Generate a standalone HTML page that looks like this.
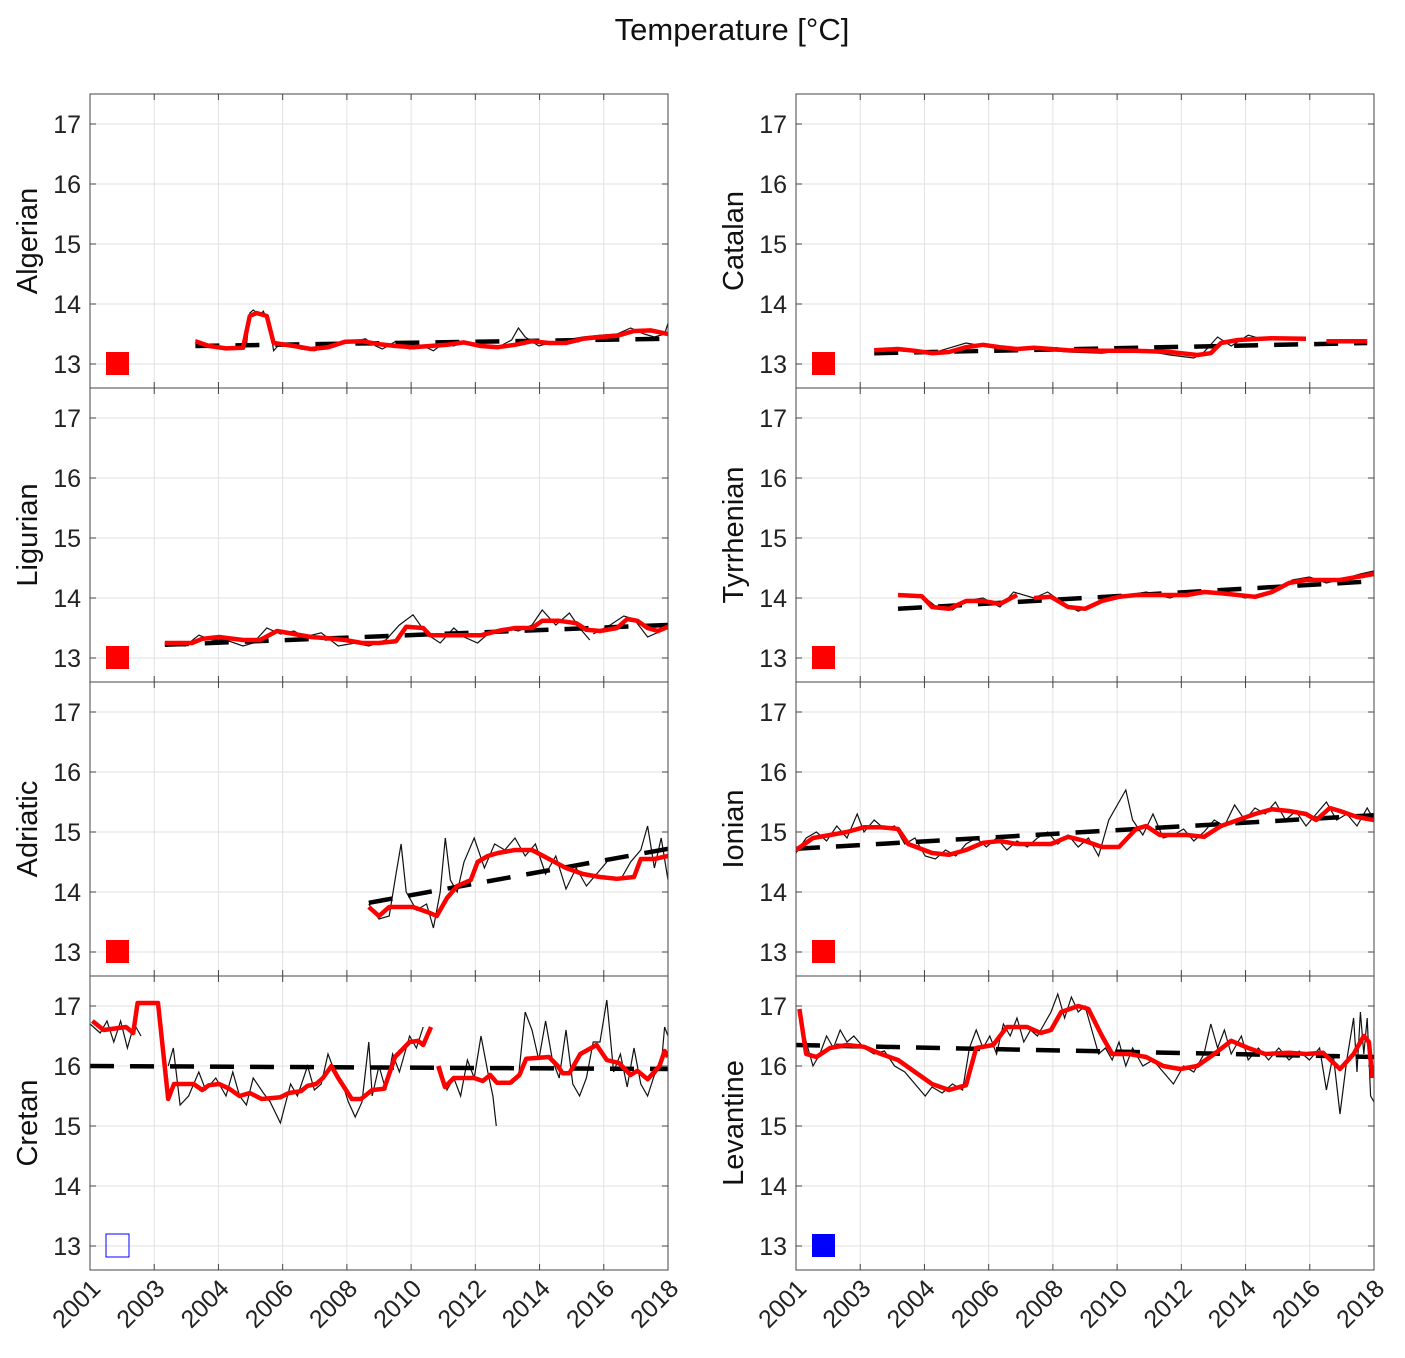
<!DOCTYPE html>
<html><head><meta charset="utf-8"><style>
html,body{margin:0;padding:0;background:#fff;}
svg{display:block;font-family:"Liberation Sans",Arial,sans-serif;}
</style></head><body>
<svg id="chart" width="1405" height="1358" viewBox="0 0 1405 1358" xmlns="http://www.w3.org/2000/svg">
<text x="732" y="40" text-anchor="middle" font-size="31" fill="#111">Temperature [°C]</text>
</svg>
<script>
const regions = ["Algerian","Catalan","Ligurian","Tyrrhenian","Adriatic","Ionian","Cretan","Levantine"];
const yTicks = [13,14,15,16,17];
const xTickLabels = ["2001","2003","2004","2006","2008","2010","2012","2014","2016","2018"];
const markerStyle = ["red","red","red","red","red","red","blueOpen","blue"];
const trends = [
 [2004.1,13.3,2018,13.42],[2003.3,13.18,2017.8,13.35],
 [2003.2,13.22,2018,13.55],[2004,13.82,2018,14.28],
 [2009.2,13.82,2018,14.72],[2001,14.72,2018,15.28],
 [2001,16.0,2018,15.95],[2001,16.35,2018,16.15]];
const red0=[[2004.1,13.38],[2004.5,13.3],[2005,13.26],[2005.5,13.27],[2005.7,13.8],[2005.9,13.85],[2006.2,13.8],[2006.4,13.35],[2007,13.3],[2007.5,13.25],[2008,13.28],[2008.5,13.37],[2009,13.38],[2009.5,13.33],[2010,13.3],[2010.5,13.28],[2011,13.3],[2011.5,13.32],[2012,13.36],[2012.5,13.3],[2013,13.28],[2013.5,13.32],[2014,13.38],[2014.5,13.35],[2015,13.35],[2015.5,13.42],[2016,13.45],[2016.5,13.47],[2017,13.55],[2017.5,13.56],[2018,13.5]];
const red1=[[2003.3,13.23],[2004,13.25],[2004.5,13.22],[2005,13.18],[2005.5,13.2],[2006,13.28],[2006.5,13.32],[2007,13.28],[2007.5,13.25],[2008,13.27],[2008.5,13.25],[2009,13.23],[2010,13.22],[2011,13.22],[2012,13.2],[2012.8,13.15],[2013.2,13.18],[2013.5,13.35],[2014,13.4],[2015,13.43],[2016,13.42],[2016.3,null],[2016.6,13.38],[2017.8,13.38]];
const red2=[[2003.2,13.25],[2004,13.25],[2004.3,13.32],[2004.8,13.35],[2005.5,13.3],[2006,13.3],[2006.5,13.45],[2007,13.4],[2007.5,13.35],[2008,13.33],[2008.5,13.3],[2009,13.25],[2009.5,13.25],[2010,13.28],[2010.3,13.52],[2010.8,13.5],[2011,13.38],[2011.5,13.38],[2012,13.38],[2012.5,13.38],[2013,13.45],[2013.5,13.5],[2014,13.5],[2014.3,13.62],[2014.8,13.62],[2015.3,13.58],[2015.6,13.47],[2016,13.45],[2016.5,13.5],[2016.8,13.65],[2017.1,13.62],[2017.4,13.5],[2017.7,13.45],[2018,13.52]];
const red3=[[2004,14.05],[2004.7,14.03],[2005,13.85],[2005.5,13.82],[2006,13.95],[2006.5,13.95],[2007,13.9],[2007.5,14.05],[2007.7,null],[2008,14.0],[2008.5,14.02],[2009,13.85],[2009.5,13.82],[2010,13.95],[2010.5,14.02],[2011,14.05],[2012,14.05],[2012.5,14.05],[2013,14.1],[2013.5,14.08],[2014,14.05],[2014.5,14.02],[2015,14.1],[2015.5,14.25],[2016,14.3],[2016.5,14.3],[2017,14.3],[2017.5,14.35],[2018,14.4]];
const red4=[[2009.2,13.75],[2009.5,13.6],[2009.8,13.75],[2010.5,13.75],[2011,13.65],[2011.2,13.6],[2011.5,13.9],[2011.8,14.1],[2012.2,14.2],[2012.4,14.5],[2012.7,14.6],[2013,14.65],[2013.5,14.7],[2014,14.7],[2014.5,14.55],[2015,14.4],[2015.5,14.3],[2016,14.25],[2016.5,14.22],[2017,14.25],[2017.2,14.55],[2017.6,14.55],[2018,14.6]];
const red5=[[2001,14.7],[2001.5,14.9],[2002,14.95],[2002.5,15.0],[2003,15.08],[2003.5,15.08],[2004,15.05],[2004.3,14.8],[2005,14.65],[2005.5,14.62],[2006,14.7],[2006.5,14.82],[2007,14.85],[2007.5,14.8],[2008,14.8],[2008.5,14.8],[2009,14.92],[2009.5,14.85],[2010,14.75],[2010.5,14.75],[2011,15.05],[2011.3,15.1],[2011.7,14.95],[2012.5,14.95],[2013,14.92],[2013.5,15.1],[2014,15.2],[2014.5,15.3],[2015,15.38],[2015.5,15.35],[2016,15.3],[2016.3,15.2],[2016.7,15.4],[2017,15.35],[2017.5,15.25],[2018,15.2]];
const red6=[[2001.07,16.75],[2001.4,16.6],[2002.06,16.65],[2002.27,16.55],[2002.4,17.05],[2003.0,17.05],[2003.3,15.45],[2003.47,15.7],[2004.05,15.7],[2004.3,15.6],[2004.5,15.68],[2004.8,15.7],[2005.1,15.62],[2005.4,15.5],[2005.7,15.55],[2006.05,15.45],[2006.6,15.48],[2006.85,15.55],[2007.2,15.58],[2007.4,15.67],[2007.65,15.7],[2007.85,15.8],[2008.1,16.0],[2008.3,15.8],[2008.7,15.45],[2008.97,15.45],[2009.3,15.6],[2009.65,15.62],[2009.97,16.15],[2010.4,16.4],[2010.65,16.42],[2010.8,16.35],[2011.03,16.65],[2011.1,null],[2011.24,16.0],[2011.44,15.65],[2011.7,15.8],[2012.3,15.8],[2012.55,15.75],[2012.77,15.85],[2012.97,15.72],[2013.36,15.72],[2013.63,15.85],[2013.83,16.12],[2014.5,16.15],[2014.76,16.0],[2014.9,15.88],[2015.1,15.88],[2015.42,16.2],[2015.9,16.35],[2016.2,16.1],[2016.56,16.05],[2016.9,15.85],[2017.1,15.92],[2017.4,15.78],[2017.75,16.0],[2017.9,16.25],[2018,16.15]];
const red7=[[2001.1,16.95],[2001.3,16.2],[2001.6,16.15],[2002,16.3],[2002.5,16.35],[2003,16.32],[2003.5,16.2],[2004,16.1],[2004.5,15.9],[2005,15.7],[2005.5,15.6],[2006,15.68],[2006.3,16.3],[2006.8,16.35],[2007.2,16.65],[2007.8,16.65],[2008.2,16.55],[2008.5,16.6],[2008.8,16.9],[2009.3,17.0],[2009.6,16.95],[2010,16.5],[2010.3,16.2],[2010.8,16.2],[2011.3,16.15],[2011.8,16.0],[2012.3,15.95],[2012.8,16.0],[2013.3,16.2],[2013.8,16.42],[2014.3,16.3],[2014.8,16.2],[2015.5,16.22],[2016,16.2],[2016.5,16.22],[2017,15.95],[2017.4,16.2],[2017.7,16.5],[2017.85,16.4],[2017.95,15.8]];
const blk0=[[2004.1,13.4],[2004.6,13.3],[2005.2,13.25],[2005.6,13.3],[2005.7,13.85],[2005.8,13.9],[2006.0,13.82],[2006.1,13.88],[2006.3,13.6],[2006.4,13.22],[2006.6,13.35],[2007.2,13.25],[2007.6,13.22],[2008.3,13.35],[2008.8,13.38],[2009.1,13.42],[2009.4,13.3],[2009.6,13.25],[2010,13.38],[2010.4,13.25],[2010.8,13.3],[2011.1,13.22],[2011.4,13.35],[2011.7,13.3],[2012,13.38],[2012.5,13.3],[2013,13.28],[2013.4,13.4],[2013.6,13.6],[2013.8,13.45],[2014.2,13.3],[2014.5,13.35],[2015,13.4],[2015.5,13.45],[2016,13.48],[2016.5,13.5],[2016.9,13.6],[2017.3,13.5],[2017.6,13.45],[2017.9,13.5],[2018,13.68]];
const blk1=[[2003.3,13.25],[2004,13.22],[2005,13.18],[2006,13.35],[2006.5,13.3],[2007,13.25],[2008,13.25],[2009,13.2],[2010,13.18],[2011,13.25],[2012,13.15],[2012.7,13.1],[2013,13.2],[2013.4,13.45],[2013.8,13.3],[2014.3,13.48],[2014.8,13.4],[2015.3,13.45]];
const blk2=[[2003.3,13.22],[2003.8,13.2],[2004.2,13.38],[2004.6,13.3],[2005,13.3],[2005.5,13.2],[2005.8,13.25],[2006.2,13.5],[2006.6,13.4],[2007,13.45],[2007.3,13.35],[2007.8,13.42],[2008.3,13.2],[2008.8,13.25],[2009.2,13.2],[2009.7,13.3],[2010.1,13.55],[2010.5,13.72],[2010.9,13.4],[2011.3,13.25],[2011.7,13.5],[2012,13.35],[2012.4,13.25],[2012.8,13.45],[2013.2,13.5],[2013.6,13.45],[2014,13.55],[2014.3,13.8],[2014.7,13.55],[2015.1,13.75],[2015.4,13.5],[2015.7,13.3],[2015.75,null],[2015.8,13.4],[2016.3,13.55],[2016.7,13.7],[2017,13.65],[2017.4,13.35],[2017.8,13.45],[2018,13.55]];
const blk3=[[2004,14.05],[2004.8,14.0],[2005.2,13.82],[2005.6,13.8],[2006,13.95],[2006.5,14.0],[2007,13.85],[2007.4,14.1],[2008,14.0],[2008.4,14.1],[2008.9,13.9],[2009.3,13.78],[2009.8,13.9],[2010.3,14.05],[2010.8,14.05],[2011.3,14.1],[2012,14.0],[2012.5,14.1],[2013,14.08],[2013.6,14.12],[2014.2,14.0],[2014.7,14.05],[2015.2,14.15],[2015.6,14.3],[2016.1,14.35],[2016.6,14.25],[2017.1,14.32],[2017.6,14.4],[2018,14.45]];
const blk4=[[2009.2,13.8],[2009.5,13.55],[2009.8,13.6],[2010.0,14.3],[2010.15,14.8],[2010.3,14.0],[2010.6,13.7],[2010.9,13.8],[2011.1,13.4],[2011.3,14.0],[2011.45,14.9],[2011.6,14.2],[2011.8,14.0],[2012,14.5],[2012.3,14.9],[2012.6,14.4],[2012.9,14.8],[2013.2,14.7],[2013.5,14.9],[2013.8,14.6],[2014.1,14.8],[2014.4,14.3],[2014.7,14.6],[2015,14.05],[2015.3,14.4],[2015.6,14.1],[2015.9,14.3],[2016.2,14.5],[2016.3,null],[2016.6,14.2],[2016.9,14.5],[2017.2,14.7],[2017.4,15.1],[2017.6,14.4],[2017.8,14.9],[2018,14.2]];
const blk5=[[2001,14.65],[2001.3,14.9],[2001.6,15.0],[2001.9,14.85],[2002.2,15.1],[2002.5,14.9],[2002.8,15.3],[2003,15.0],[2003.3,15.2],[2003.6,15.05],[2003.9,15.1],[2004.2,14.8],[2004.5,14.9],[2004.8,14.6],[2005.1,14.55],[2005.4,14.7],[2005.7,14.6],[2006,14.8],[2006.3,14.9],[2006.6,14.75],[2006.9,14.9],[2007.2,14.7],[2007.5,14.85],[2007.8,14.75],[2008.1,14.9],[2008.4,15.0],[2008.7,14.8],[2009,14.95],[2009.3,14.75],[2009.6,14.9],[2009.9,14.6],[2010.2,15.2],[2010.5,15.5],[2010.7,15.7],[2010.9,15.2],[2011.2,14.95],[2011.5,15.3],[2011.8,14.9],[2012.1,14.95],[2012.4,15.05],[2012.7,14.85],[2013,15.0],[2013.3,15.2],[2013.6,15.1],[2013.9,15.45],[2014.2,15.2],[2014.5,15.4],[2014.8,15.3],[2015.1,15.5],[2015.4,15.2],[2015.7,15.35],[2016,15.1],[2016.3,15.3],[2016.6,15.5],[2016.9,15.2],[2017.2,15.3],[2017.5,15.1],[2017.8,15.4],[2018,15.2]];
const blk6=[[2001,16.7],[2001.3,16.55],[2001.5,16.75],[2001.7,16.4],[2001.9,16.75],[2002.1,16.3],[2002.3,16.7],[2002.5,16.5],[2002.6,null],[2003.3,16.0],[2003.45,16.3],[2003.65,15.35],[2003.9,15.5],[2004.2,15.9],[2004.4,15.6],[2004.7,15.8],[2005,15.5],[2005.2,15.9],[2005.4,15.5],[2005.6,15.35],[2005.8,15.8],[2006.1,15.55],[2006.3,15.4],[2006.6,15.05],[2006.9,15.7],[2007.1,15.5],[2007.4,16.0],[2007.6,15.6],[2007.8,15.7],[2008,16.2],[2008.2,15.9],[2008.4,15.75],[2008.6,15.4],[2008.8,15.15],[2009,15.4],[2009.2,16.4],[2009.3,15.5],[2009.5,16.0],[2009.7,15.6],[2009.9,16.2],[2010.1,15.9],[2010.4,16.5],[2010.6,16.3],[2010.8,16.65],[2010.9,null],[2011.3,16.0],[2011.5,15.6],[2011.7,15.8],[2011.9,15.5],[2012.1,16.1],[2012.3,15.8],[2012.5,16.5],[2012.7,15.9],[2012.85,15.5],[2012.95,15.0],[2013.0,null],[2013.4,15.7],[2013.6,15.8],[2013.8,16.9],[2014,16.6],[2014.2,16.1],[2014.4,16.75],[2014.6,16.1],[2014.8,15.8],[2015,16.6],[2015.2,15.7],[2015.4,15.5],[2015.6,15.8],[2015.8,16.4],[2016,16.4],[2016.2,17.1],[2016.4,15.9],[2016.6,16.2],[2016.8,15.65],[2017,16.3],[2017.2,15.7],[2017.4,15.5],[2017.6,15.85],[2017.8,16.0],[2017.9,16.65],[2018,16.5]];
const blk7=[[2001.1,16.8],[2001.3,16.4],[2001.5,16.0],[2001.7,16.2],[2001.9,16.5],[2002.1,16.3],[2002.3,16.6],[2002.5,16.4],[2002.7,16.5],[2003,16.3],[2003.3,16.2],[2003.6,16.25],[2003.9,16.0],[2004.2,15.9],[2004.5,15.7],[2004.8,15.5],[2005,15.65],[2005.3,15.55],[2005.6,15.7],[2005.9,15.6],[2006.1,16.3],[2006.3,16.6],[2006.5,16.3],[2006.7,16.5],[2006.9,16.2],[2007.1,16.7],[2007.3,16.5],[2007.5,16.8],[2007.7,16.4],[2007.9,16.6],[2008.1,16.5],[2008.3,16.7],[2008.5,16.9],[2008.7,17.2],[2008.9,16.8],[2009.1,17.15],[2009.3,16.9],[2009.5,17.0],[2009.7,16.6],[2009.9,16.2],[2010.1,16.3],[2010.3,16.1],[2010.5,16.4],[2010.7,16.0],[2010.9,16.3],[2011.2,16.0],[2011.5,16.1],[2011.8,15.9],[2012.1,15.7],[2012.4,16.0],[2012.7,15.9],[2013,16.2],[2013.2,16.7],[2013.4,16.3],[2013.6,16.6],[2013.8,16.2],[2014.1,16.5],[2014.3,16.1],[2014.6,16.3],[2014.9,16.1],[2015.2,16.3],[2015.5,16.1],[2015.8,16.25],[2016.1,16.1],[2016.4,16.3],[2016.6,15.6],[2016.8,16.2],[2017,15.2],[2017.2,16.1],[2017.4,16.8],[2017.5,15.9],[2017.6,16.9],[2017.7,16.2],[2017.8,16.8],[2017.9,15.5],[2018,15.4]];
const redSeries=[red0,red1,red2,red3,red4,red5,red6,red7];
const blackSeries=[blk0,blk1,blk2,blk3,blk4,blk5,blk6,blk7];

const NS="http://www.w3.org/2000/svg";
const svg=document.getElementById('chart');
const colX=[90,796], W=578, H=294, top0=94;
const X0=2001, X1=2018, Y0=12.6, Y1=17.5;
function mk(tag,attrs,parent){const e=document.createElementNS(NS,tag);for(const k in attrs)e.setAttribute(k,attrs[k]);(parent||svg).appendChild(e);return e;}
function sx(px0,v){return px0+(v-X0)/(X1-X0)*W;}
function sy(py0,v){return py0+H-(v-Y0)/(Y1-Y0)*H;}
function pathD(arr,px0,py0){let d='',pen=false;for(const p of arr){if(p[1]===null){pen=false;continue;}d+=(pen?'L':'M')+sx(px0,p[0]).toFixed(1)+','+sy(py0,p[1]).toFixed(1);pen=true;}return d;}

regions.forEach((name,i)=>{
  const c=i%2, r=Math.floor(i/2), px0=colX[c], py0=top0+r*H;
  const g=mk('g',{});
  
  
  mk('clipPath',{id:'clip'+i},g);
  mk('rect',{x:px0,y:py0,width:W,height:H},g.lastChild);
  mk('rect',{x:px0,y:py0,width:W,height:H,fill:'#fff'},g);
  // grid
  xTickLabels.forEach((lab,k)=>{
    const x=px0+k*W/(xTickLabels.length-1);
    const gl=mk('line',{x1:x,x2:x,y1:py0,y2:py0+H,stroke:'#e2e2e2','stroke-width':1},g);
    
    
    mk('line',{x1:x,x2:x,y1:py0+H,y2:py0+H-6,stroke:'#444','stroke-width':1},g);
    mk('line',{x1:x,x2:x,y1:py0,y2:py0+6,stroke:'#444','stroke-width':1},g);
  });
  yTicks.forEach(v=>{
    const y=sy(py0,v);
    const gl=mk('line',{x1:px0,x2:px0+W,y1:y,y2:y,stroke:'#e2e2e2','stroke-width':1},g);
    
    
    mk('line',{x1:px0,x2:px0+6,y1:y,y2:y,stroke:'#444'},g);
    mk('line',{x1:px0+W,x2:px0+W-6,y1:y,y2:y,stroke:'#444'},g);
    const t=mk('text',{x:px0-9,y:y+9,'text-anchor':'end','font-size':25,fill:'#222'},g);
    t.textContent=v;
    
    
  });
  const cg=mk('g',{'clip-path':'url(#clip'+i+')'},g);
  const bl=mk('path',{d:pathD(blackSeries[i],px0,py0),fill:'none',stroke:'#111','stroke-width':1.2},cg);
  
  
  const tr=trends[i];
  const tl=mk('line',{x1:sx(px0,tr[0]),y1:sy(py0,tr[1]),x2:sx(px0,tr[2]),y2:sy(py0,tr[3]),stroke:'#000','stroke-width':4.5,'stroke-dasharray':'24 16'},cg);
  
  
  const rl=mk('path',{d:pathD(redSeries[i],px0,py0),fill:'none',stroke:'#ff0000','stroke-width':4.5,'stroke-linejoin':'round'},cg);
  
  
  const ms=markerStyle[i];
  const mr=mk('rect',{x:px0+16,y:sy(py0,13)-12,width:23,height:23,
    fill:ms==='red'?'#ff0000':(ms==='blue'?'#0000ff':'none'),
    stroke:ms==='red'?'#ff0000':'#0000ff','stroke-width':ms==='blueOpen'?1:0},g);
  
  
  mk('rect',{x:px0,y:py0,width:W,height:H,fill:'none',stroke:'#444','stroke-width':1},g);
  const yl=mk('text',{x:0,y:0,'text-anchor':'middle','font-size':29,fill:'#111',transform:`translate(${px0-53},${py0+H/2}) rotate(-90)`},g);
  yl.textContent=name;
  
  
  if(r===3){
    xTickLabels.forEach((lab,k)=>{
      const x=px0+k*W/(xTickLabels.length-1);
      const t=mk('text',{x:0,y:0,'text-anchor':'end','font-size':25,fill:'#222',transform:`translate(${x+12},${py0+H+20}) rotate(-45)`},g);
      t.textContent=lab;
      
      
    });
  }
});
</script>
</body></html>
